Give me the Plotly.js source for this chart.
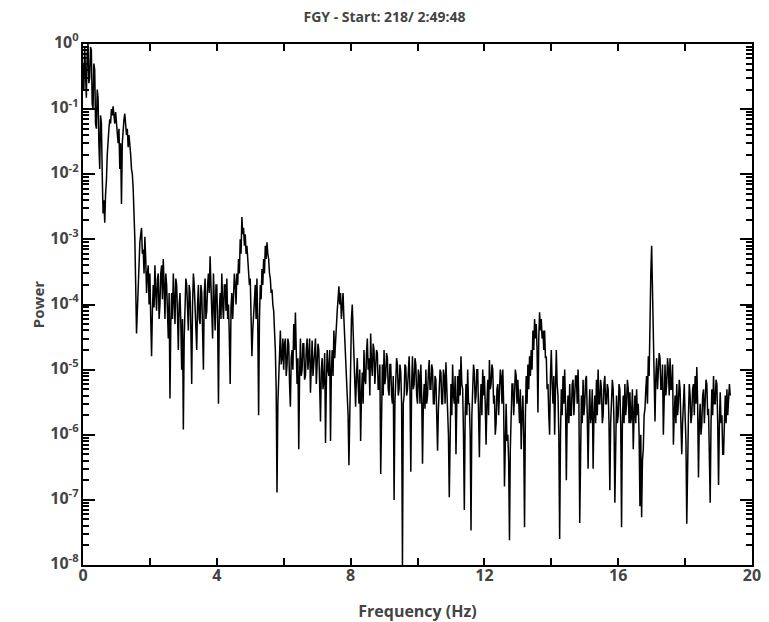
<!DOCTYPE html>
<html>
<head>
<meta charset="utf-8">
<script src="https://cdn.plot.ly/plotly-3.0.1.min.js"></script>
<style>html,body{margin:0;padding:0;background:#fff;}#chart{width:769px;height:622px;}</style>
</head>
<body>
<div id="chart"></div>
<script>
// Frequency bins: start and spacing (Hz)
const freqStart = 0;
const freqStep = 0.025;

// Power values, in 2 Hz blocks
const power_00_02 = [0.5,0.2,0.9,0.3,0.15,0.7,1.0,0.25,0.3,0.9,0.8,0.12,0.1,0.5,0.4,0.06,0.05,0.2,0.15,0.03,
  0.012,0.08,0.06,0.01,0.0025,0.004,0.0018,0.005,0.008,0.02,0.04,0.05,0.07,0.06,0.1,0.08,0.11,0.07,0.06,0.09,
  0.06,0.04,0.03,0.05,0.012,0.03,0.0035,0.03,0.05,0.07,0.085,0.05,0.04,0.05,0.026,0.04,0.03,0.02,0.012,0.01,
  0.006,0.003,0.001,0.0002,3.6e-5,8e-5,2e-4,5e-4,9e-4,1.2e-3,1.5e-3,6e-4,7e-4,3e-4,1.1e-3,5e-4,1.5e-4,3e-4,4e-4,1e-4];
const power_02_04 = [3e-4,6e-5,1.6e-5,8e-5,2e-4,9e-5,4e-4,1.5e-4,8e-5,2.5e-4,3e-4,6e-5,1e-4,3e-4,4e-4,1.2e-4,5e-4,2e-4,6e-5,3e-4,
  2e-4,8e-5,3e-5,1.5e-4,3.6e-6,5e-5,1.5e-4,6e-5,3e-4,1.2e-4,5e-5,2.5e-4,2e-4,7e-5,2e-5,1e-4,1.5e-4,5e-5,1e-5,6e-5,
  1.2e-6,3e-5,8e-5,2.5e-4,2e-4,7e-5,4e-5,2e-4,1.5e-4,4e-5,6e-6,1e-4,3e-4,2e-4,1e-4,3e-5,2e-5,1e-4,2e-4,6e-5,
  5e-5,2e-4,1.5e-4,4e-5,1e-5,1.5e-4,2.5e-4,6e-5,8e-5,2e-4,3e-4,1.5e-4,5.5e-4,2e-4,1e-4,3e-5,3e-4,1e-4,4e-5,2e-4];
const power_04_06 = [2e-4,5e-5,3e-6,8e-5,1.5e-4,6e-5,3e-4,1e-4,6e-5,2e-4,2e-4,8e-5,2.5e-4,6e-5,1e-4,3e-5,6e-6,9e-5,1.5e-4,6e-5,
  1.2e-4,3e-4,2e-4,1e-4,3e-4,2e-4,5e-4,3e-4,1e-3,6e-4,2.2e-3,1.2e-3,1.5e-3,8e-4,1.2e-3,6e-4,8e-4,5e-4,4e-4,2e-4,
  2.5e-4,6e-5,1.6e-5,4e-5,8e-5,1.5e-4,2e-4,6e-5,2.5e-4,5e-5,2e-6,6e-5,2e-4,1.2e-4,3.5e-4,2e-4,5e-4,3e-4,8e-4,5e-4,
  9e-4,6e-4,5e-4,3e-4,2.5e-4,1.5e-4,1.7e-4,1e-4,8e-5,4e-5,2e-5,5e-6,1.3e-7,3e-6,1e-5,2e-5,4e-5,1.2e-5,1.5e-5,3e-5];
const power_06_08 = [1e-5,2.5e-5,3e-5,8e-6,1.2e-5,3e-5,2.5e-5,6e-6,2.7e-6,1.5e-5,2e-5,1e-5,5e-5,2e-5,7.5e-5,2e-5,6e-6,1.5e-5,6e-7,8e-6,
  3e-5,8e-6,1e-5,2.5e-5,2.5e-5,7e-6,8e-6,2e-5,3e-5,1e-5,1.5e-5,3e-5,4.4e-6,1.2e-5,2.8e-5,8e-6,1.2e-5,2.5e-5,3e-5,6e-6,
  1e-5,2.5e-5,2e-5,5e-6,1.6e-6,1e-5,1.5e-5,5e-6,7e-6,1.8e-5,7.5e-7,6e-6,2e-5,1e-5,8e-6,2e-5,8e-7,1e-5,2e-5,8e-6,
  4e-5,1.5e-5,3e-5,5e-5,8e-5,1.2e-4,1.9e-4,1e-4,1.5e-4,6e-5,9e-5,1.5e-4,6e-5,3e-5,2e-5,1e-5,7e-6,2e-6,3.4e-7,3e-6];
const power_08_10 = [3e-5,6e-5,1e-4,4e-5,2e-5,8e-6,2.7e-6,8e-6,1.5e-5,6e-6,3e-6,1e-5,8e-7,4e-6,9e-6,3e-6,2e-5,7e-6,6e-6,1.8e-5,
  3e-5,1e-5,1.5e-5,4e-6,3.6e-5,1.2e-5,8e-6,2.5e-5,2e-5,6e-6,1e-5,2e-5,1.8e-5,5e-6,5e-6,1.2e-5,2.5e-7,5e-6,1.2e-5,4e-6,
  2e-5,6e-6,8e-6,1.8e-5,1.5e-5,5e-6,4e-6,1.2e-5,1.2e-5,4e-6,3e-6,8e-6,1e-7,3e-6,6e-6,1.5e-5,1.2e-5,4e-6,5e-6,1.2e-5,
  9e-6,3e-6,1e-8,3e-6,4e-6,1.2e-5,1.1e-5,4e-6,5e-6,1.4e-5,1.6e-5,5e-6,2.7e-7,6e-6,1.6e-5,5e-6,6e-6,1.5e-5,1.2e-5,4e-6];
const power_10_12 = [3e-6,1e-5,8e-6,3e-6,1.2e-5,4e-6,3.6e-7,3e-6,6e-6,2.5e-6,1e-5,3e-6,4e-6,9e-6,1.4e-5,5e-6,5e-6,1.2e-5,1e-5,3e-6,
  3e-6,8e-6,7e-6,2e-6,5.7e-7,2.5e-6,5e-6,1e-5,9e-6,3e-6,3e-6,1e-5,8e-6,3e-6,1.3e-5,5e-6,4e-6,1e-6,1.1e-7,2e-6,
  6e-6,2e-6,1.2e-5,4e-6,3e-6,8e-6,5e-7,3e-6,8e-6,3e-6,1e-5,4e-6,1.6e-5,6e-6,5e-6,1e-6,7e-8,2e-6,6e-6,2e-6,
  1e-5,3e-6,3e-6,1e-6,3.4e-8,2e-6,5e-6,1.2e-5,9e-6,3e-6,4e-6,1e-5,1e-5,3e-6,4.5e-7,3e-6,6e-6,2e-6,1e-5,4e-6];
const power_12_14 = [8e-6,3e-6,7e-7,3e-6,7e-6,2e-6,1.4e-5,5e-6,6e-6,1.2e-5,1e-5,3e-6,4e-6,1e-6,1.5e-6,5e-6,6e-6,2e-6,5e-6,1e-5,
  8e-6,3e-6,1e-5,3e-6,1.6e-7,1.5e-6,3e-6,8e-7,1e-6,4e-7,2.4e-8,6e-7,2e-6,6e-6,6e-6,2e-6,4e-6,1e-5,8e-6,3e-6,
  7e-6,2e-6,1.5e-6,5e-6,6e-7,2e-6,4e-6,1e-6,3.8e-8,2e-6,8e-6,3e-6,1.2e-5,5e-6,1.6e-5,8e-6,2e-5,1e-5,4e-5,2e-5,
  6e-5,3e-5,5e-5,2e-5,2.2e-6,3e-5,7.6e-5,4e-5,6e-5,3e-5,4e-5,2e-5,4e-5,1.5e-5,1.6e-5,5e-6,6e-6,2e-6,1e-6,8e-6];
const power_14_16 = [2e-5,6e-6,3e-6,8e-6,1e-6,5e-6,2e-5,6e-6,4e-6,1e-6,2.5e-8,1e-6,5e-6,2e-6,8e-6,3e-6,1e-5,3e-6,2e-7,2e-6,
  4e-6,1.5e-6,6e-6,2e-6,2e-6,6e-6,7e-6,2e-6,4e-6,8e-6,8e-6,3e-6,1e-5,3e-6,4.4e-8,1.5e-6,4e-6,1.5e-6,7e-6,2e-6,
  3e-6,7e-6,8e-6,2e-6,3e-7,2e-6,5e-6,1.5e-6,2e-6,5e-6,3e-7,2e-6,4e-6,1.5e-6,7e-6,2e-6,1e-5,3e-6,3e-6,7e-6,
  5e-6,1.5e-6,2e-6,6e-6,8e-6,3e-6,3e-6,6e-6,5e-6,1.5e-6,1.4e-7,1.5e-6,3e-6,7e-6,5e-6,1.5e-6,9e-8,1.5e-6,4e-6,1.5e-6];
const power_16_18 = [2e-6,6e-6,5e-6,1.5e-6,3.8e-8,1.5e-6,4e-6,1.5e-6,6e-6,2e-6,3e-6,7e-6,5e-6,1.5e-6,4.5e-6,1.5e-6,2e-6,5e-6,6e-7,2e-6,
  4e-6,1.5e-6,5e-6,2e-6,3e-6,1e-6,8e-8,1e-6,5.4e-8,4e-7,6e-7,2e-6,2.5e-6,5e-6,8e-6,3e-6,1.6e-5,8e-6,1e-4,3e-4,
  8e-4,2e-4,5e-5,1e-5,1.6e-6,8e-6,1.5e-5,5e-6,8e-6,1.8e-5,1.5e-5,5e-6,5e-6,1.2e-5,1e-6,4e-6,1.2e-5,4e-6,6e-6,1.5e-5,
  1e-5,4e-6,1.5e-5,5e-6,5e-6,1.2e-5,7e-7,2e-6,4e-6,1.5e-6,6e-6,2e-6,3e-6,7e-6,5e-6,1.5e-6,5e-7,1.5e-6,3e-6,6e-6];
const power_18_20 = [2e-6,8e-7,4.3e-8,1e-6,2e-6,6e-6,4e-6,1.5e-6,2e-6,5e-6,6e-6,2e-6,8e-6,3e-6,1.1e-5,3e-6,2.2e-7,1.5e-6,3e-6,1e-6,
  1.5e-6,4e-6,5e-6,1.5e-6,3e-6,7e-6,6e-6,2e-6,2.5e-6,6e-7,9e-8,1.5e-6,5e-6,2e-6,8e-6,3e-6,3e-6,7e-6,6e-6,1.5e-6,
  1.7e-7,1.5e-6,4.5e-6,1.5e-6,2e-6,5e-7,5e-7,1.5e-6,4e-6,1.5e-6,5e-6,2e-6,3e-6,6e-6,4e-6];

// Tick values and labels
const xTickVals = [0, 4, 8, 12, 16, 20];
const xTickLabels = ['0', '4', '8', '12', '16', '20'];
const yTickVals = [1, 1e-1, 1e-2, 1e-3, 1e-4, 1e-5, 1e-6, 1e-7, 1e-8];
const yTickExponents = ['0', '-1', '-2', '-3', '-4', '-5', '-6', '-7', '-8'];

const power = [].concat(power_00_02, power_02_04, power_04_06, power_06_08, power_08_10,
                        power_10_12, power_12_14, power_14_16, power_16_18, power_18_20);

const big = (s, px) => '<span style="font-size:' + px + 'px"><b>' + s + '</b></span>';
const xTickText = xTickLabels.map(s => big(s, 16));
const yTickText = yTickExponents.map(e => big('10<sup>' + e + '</sup>', 16));

const trace = {
  type: 'scatter', mode: 'lines',
  x0: freqStart, dx: freqStep, y: power,
  line: {color: '#000', width: 1.5}
};

const layout = {
  width: 769, height: 622,
  margin: {l: 83, r: 17, t: 44, b: 57},
  title: {text: big('FGY - Start: 218/ 2:49:48', 14)},
  xaxis: {
    range: [0, 20],
    tickvals: xTickVals, ticktext: xTickText,
    ticks: 'inside', ticklen: 7, tickwidth: 2, tickcolor: 'black',
    minor: {ticks: 'inside', ticklen: 7, tickwidth: 2, tickcolor: 'black', dtick: 2},
    showline: true, linewidth: 2, linecolor: 'black', mirror: 'ticks',
    showgrid: false, zeroline: false,
    title: {text: big('Frequency (Hz)', 16)}
  },
  yaxis: {
    type: 'log', range: [-8, 0],
    tickvals: yTickVals, ticktext: yTickText,
    ticks: 'inside', ticklen: 12, tickwidth: 2, tickcolor: 'black',
    minor: {ticks: 'inside', ticklen: 6, tickwidth: 1.5, tickcolor: 'black', dtick: 'D1'},
    showline: true, linewidth: 2, linecolor: 'black', mirror: 'ticks',
    showgrid: false, zeroline: false,
    title: {text: big('Power', 15)}
  }
};

Plotly.newPlot('chart', [trace], layout, {displayModeBar: false});
</script>
</body>
</html>
